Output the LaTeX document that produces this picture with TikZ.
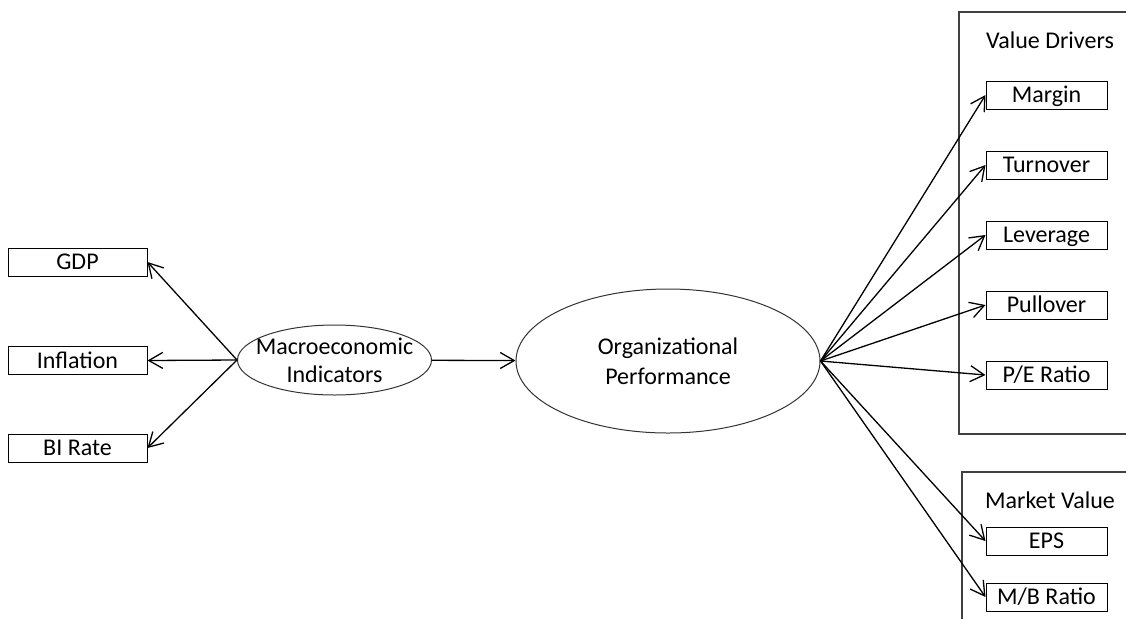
\documentclass[tikz,border=0pt]{standalone}
\usepackage{fontspec}
\setmainfont{Carlito}
\usetikzlibrary{arrows.meta,positioning,shapes.geometric}

\begin{document}
\begin{tikzpicture}[x=0.5pt,y=-0.5pt,>={Straight Barb[length=7pt,width=8pt]},
    font=\fontsize{12}{14}\selectfont,node distance=35pt,on grid,
    var/.style={draw,line width=0.5pt,minimum width=60.5pt,minimum height=14pt,inner sep=0pt,text height=7.7pt,text depth=0pt},
    ind/.style={var,minimum width=69.5pt},
    construct/.style={ellipse,draw,black!80,text=black,line width=0.5pt,inner xsep=-8pt,inner ysep=-4pt,align=center},
    link/.style={->,line width=0.65pt}]
  \clip (0,0) rectangle (1126,618);
  % group frames, open to the right
  \draw[line width=0.6pt,black!75] (959,12) rectangle (1140,434);
  \draw[line width=0.6pt,black!75] (962,472) rectangle (1140,640);
  \node (vdtitle) at (1050,40) {Value Drivers};
  \node (mvtitle) at (1050,500) {Market Value};

  \node[construct,minimum width=97pt,minimum height=35pt] (macro) at (334.5,360) {Macroeconomic\\Indicators};
  \node[construct,minimum width=152pt,minimum height=72pt,font=\fontsize{12}{15}\selectfont] (org) at (668,361) {Organizational\\Performance};

  \node[ind] (gdp) at (77.5,262) {GDP};
  \node[ind] (infl) at (77.5,360.5) {Inflation};
  \node[ind] (bi) at (77.5,448) {BI Rate};

  \node[var] (margin) at (1046.5,95) {Margin};
  \node[var] (turn) [below=of margin] {Turnover};
  \node[var] (lev) [below=of turn] {Leverage};
  \node[var] (pull) [below=of lev] {Pullover};
  \node[var] (pe) [below=of pull] {P/E Ratio};

  \node[var] (eps) at (1046.5,541) {EPS};
  \node[var] (mb) [below=28pt of eps] {M/B Ratio};

  \path[link]
    (macro.west) edge (gdp.east)
    (macro.west) edge (infl.east)
    (macro.west) edge (bi.east)
    (macro) edge (org);
  \foreach \v in {margin,turn,lev,pull,pe,eps,mb}
    \draw[link] (org.east) -- (\v.west);
\end{tikzpicture}
\end{document}
